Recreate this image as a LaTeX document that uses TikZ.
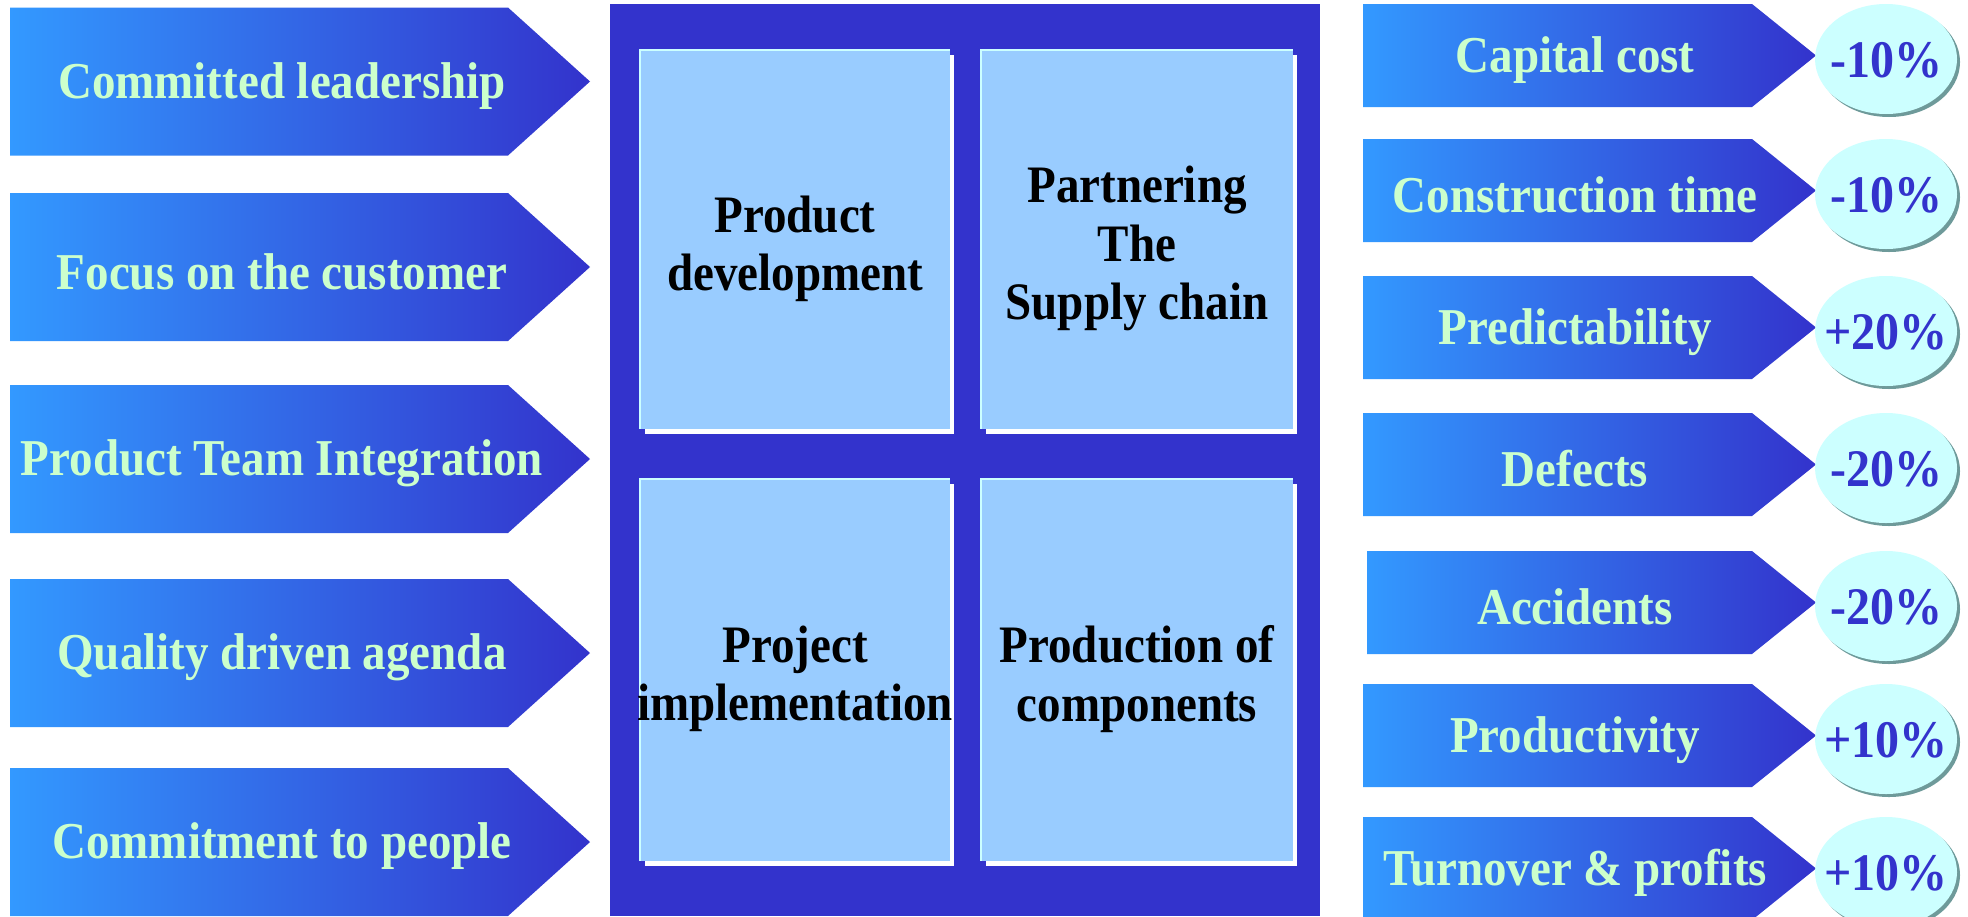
\documentclass[tikz,border=0pt]{standalone}
\usepackage{fontspec}
\setmainfont{Liberation Serif}
\definecolor{darkb}{HTML}{3333CC}
\definecolor{lightb}{HTML}{3399FF}
\definecolor{paleb}{HTML}{99CCFF}
\definecolor{palecyan}{HTML}{CCFFFF}
\definecolor{palegreen}{HTML}{CCFFCC}
\definecolor{shadowgray}{HTML}{6E9A9A}
\tikzset{
  arrowshape/.style={left color=lightb, right color=darkb, draw=none},
  lbl/.style={font=\fontsize{23.5}{27.5}\selectfont\bfseries, text=palegreen, inner sep=0pt, transform shape, yscale=1.1, yshift=-2pt},
  boxlbl/.style={font=\fontsize{23.5}{26}\selectfont\bfseries, text=black, align=center, inner sep=0pt, transform shape, yscale=1.12, yshift=-4pt},
  pctlbl/.style={font=\fontsize{24}{28}\selectfont\bfseries, text=darkb, inner sep=0pt, transform shape, yscale=1.1, yshift=-1pt},
}
\begin{document}
\begin{tikzpicture}[x=0.5pt,y=-0.5pt]
\fill[white] (0,0) rectangle (1968,916);
\useasboundingbox (0,0) rectangle (1968,916);
% left arrows
\foreach \t/\txt [count=\i] in {7.5/Committed leadership, 193/Focus on the customer, 385/Product Team Integration, 579/Quality driven agenda, 768/Commitment to people}{
  \path[arrowshape] (10,\t) -- (508,\t) -- (590,{\t+74}) -- (508,{\t+148}) -- (10,{\t+148}) -- cycle;
  \node[lbl] (L\i) at (282,{\t+74}) {\txt};
}
% central panel
\fill[darkb] (610,4) rectangle (1320,916);
\foreach \xa/\ya/\xb/\yb/\nm/\txt in {640/50/950/429/pd/{Product\\development}, 981/50/1293/429/ps/{Partnering\\The\\Supply chain}, 640/479/950/861/pi/{Project\\implementation}, 981/479/1293/861/pc/{Production of\\components}}{
  \fill[white] ({\xa+5},{\ya+5}) rectangle ({\xb+4},{\yb+5});
  \fill[paleb] (\xa,\ya) rectangle (\xb,\yb);
  \draw[palecyan, line width=1.2pt] (\xa,\yb) -- (\xa,\ya) -- (\xb,\ya);
  \node[boxlbl] (\nm) at ({(\xa+\xb)/2},{(\ya+\yb)/2}) {\txt};
}
% right arrows and circles
\foreach \t/\x/\txt/\p [count=\i] in {4/1363/Capital cost/-10\%, 139/1363/Construction time/-10\%, 276/1363/Predictability/+20\%, 413/1363/Defects/-20\%, 551/1367/Accidents/-20\%, 684/1363/Productivity/+10\%, 817/1363/Turnover \& profits/+10\%}{
  \path[arrowshape] (\x,\t) -- (1752,\t) -- (1816,{\t+51.5}) -- (1752,{\t+103}) -- (\x,{\t+103}) -- cycle;
  \node[lbl] (R\i) at (1575,{\t+51.5}) {\txt};
  \fill[shadowgray] (1889,{\t+58}) ellipse [x radius=71, y radius=55];
  \fill[palecyan] (1886,{\t+55}) ellipse [x radius=71, y radius=55];
  \node[pctlbl] (P\i) at (1886,{\t+54}) {\p};
}
\end{tikzpicture}
\end{document}
